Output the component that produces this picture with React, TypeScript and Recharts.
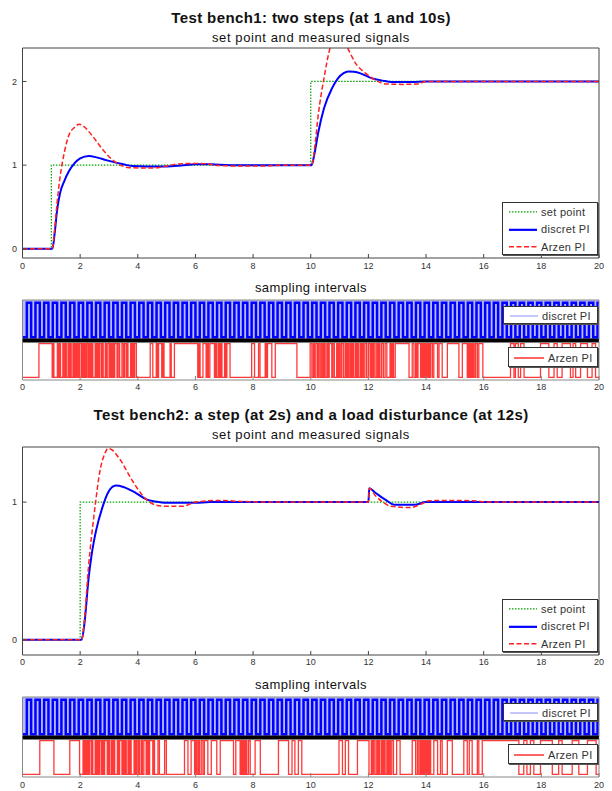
import React from 'react';
import { LineChart, Line, XAxis, YAxis, CartesianGrid } from 'recharts';

// x axis (seconds), shared by every panel
const xTicks = [0, 2, 4, 6, 8, 10, 12, 14, 16, 18, 20];

// Test bench 1: set point and measured signals, [t, y]
const bench1SetPoint: [number, number][] = [[0, 0], [1, 0], [1, 1], [10, 1], [10, 2], [20, 2]];
const bench1Discrete: [number, number][] = [
  [0, 0], [1.04, 0], [1.12, 0.2], [1.2, 0.46], [1.3, 0.66], [1.45, 0.81], [1.6, 0.92], [1.8, 1.02],
  [2.0, 1.08], [2.3, 1.11], [2.6, 1.09], [2.9, 1.06], [3.24, 1.03], [3.5, 1.01], [3.8, 0.99],
  [4.3, 0.985], [5.0, 0.985], [5.5, 0.995], [6.0, 1.01], [6.5, 1.01], [7.2, 1.0], [10.03, 1.0],
  [10.12, 1.12], [10.26, 1.39], [10.46, 1.68], [10.74, 1.92], [10.95, 2.04], [11.14, 2.1],
  [11.3, 2.12], [11.5, 2.115], [11.7, 2.1], [12.1, 2.04], [12.5, 2.01], [12.8, 1.995], [13.5, 1.995],
  [14, 2.0], [20, 2.0],
];
const bench1Arzen: [number, number][] = [
  [0, 0], [1.03, 0], [1.12, 0.25], [1.2, 0.55], [1.3, 0.85], [1.45, 1.15], [1.6, 1.35], [1.8, 1.45],
  [1.97, 1.49], [2.1, 1.47], [2.4, 1.36], [2.75, 1.2], [3.1, 1.07], [3.4, 1.0], [3.7, 0.97],
  [4.3, 0.965], [4.7, 0.97], [5.0, 0.99], [5.4, 1.015], [6.0, 1.02], [6.4, 1.015], [6.8, 0.995],
  [7.5, 0.99], [8.4, 0.99], [9.0, 1.0], [10.03, 1.0], [10.15, 1.25], [10.26, 1.6], [10.46, 2.04],
  [10.67, 2.4], [10.9, 2.55], [11.1, 2.52], [11.28, 2.4], [11.55, 2.22], [11.9, 2.1], [12.23, 2.02],
  [12.6, 1.97], [13.2, 1.965], [13.7, 1.97], [14.0, 2.0], [20, 2.0],
];

// Test bench 2
const bench2SetPoint: [number, number][] = [[0, 0], [2, 0], [2, 1], [20, 1]];
const bench2Discrete: [number, number][] = [
  [0, 0], [2.05, 0], [2.15, 0.12], [2.29, 0.44], [2.4, 0.62], [2.56, 0.8], [2.77, 0.96], [2.97, 1.07],
  [3.24, 1.12], [3.5, 1.11], [3.9, 1.07], [4.3, 1.02], [4.6, 1.005], [5.0, 0.995], [6.0, 0.995],
  [6.5, 1.0], [12.0, 1.0], [12.03, 1.1], [12.23, 1.07], [12.64, 1.01], [12.9, 0.98], [13.6, 0.98],
  [14.0, 1.0], [20, 1.0],
];
const bench2Arzen: [number, number][] = [
  [0, 0], [2.05, 0], [2.15, 0.15], [2.29, 0.53], [2.49, 0.92], [2.7, 1.24], [2.85, 1.35], [2.97, 1.39],
  [3.1, 1.38], [3.38, 1.31], [3.8, 1.16], [4.2, 1.04], [4.6, 0.98], [5.0, 0.97], [5.56, 0.97],
  [6.0, 1.0], [6.8, 1.012], [7.6, 1.005], [8.5, 1.0], [12.0, 1.0], [12.03, 1.1], [12.23, 1.05],
  [12.5, 1.0], [12.78, 0.97], [13.45, 0.96], [13.87, 0.99], [14.1, 1.01], [14.8, 1.012], [15.6, 1.01],
  [16.2, 1.0], [20, 1.0],
];

// sampling instants (the trace toggles 0/1 at each one)
const discreteSamples = [
  0.15, 0.3, 0.45, 0.6, 0.75, 0.9, 1.05, 1.2, 1.35, 1.5, 1.65, 1.8, 1.95,
  2.1, 2.25, 2.4, 2.55, 2.7, 2.85, 3, 3.15, 3.3, 3.45, 3.6, 3.75, 3.9,
  4.05, 4.2, 4.35, 4.5, 4.65, 4.8, 4.95, 5.1, 5.25, 5.4, 5.55, 5.7, 5.85,
  6, 6.15, 6.3, 6.45, 6.6, 6.75, 6.9, 7.05, 7.2, 7.35, 7.5, 7.65, 7.8, 7.95,
  8.1, 8.25, 8.4, 8.55, 8.7, 8.85, 9, 9.15, 9.3, 9.45, 9.6, 9.75, 9.9,
  10.05, 10.2, 10.35, 10.5, 10.65, 10.8, 10.95, 11.1, 11.25, 11.4, 11.55, 11.7, 11.85,
  12, 12.15, 12.3, 12.45, 12.6, 12.75, 12.9, 13.05, 13.2, 13.35, 13.5, 13.65, 13.8, 13.95,
  14.1, 14.25, 14.4, 14.55, 14.7, 14.85, 15, 15.15, 15.3, 15.45, 15.6, 15.75, 15.9,
  16.05, 16.2, 16.35, 16.5, 16.65, 16.8, 16.95, 17.1, 17.25, 17.4, 17.55, 17.7, 17.85,
  18, 18.15, 18.3, 18.45, 18.6, 18.75, 18.9, 19.05, 19.2, 19.35, 19.5, 19.65, 19.8, 19.95,
];

const bench1ArzenSamples = [
  0.57, 1.03, 1.06, 1.09, 1.21, 1.25, 1.29, 1.32, 1.4, 1.44, 1.48, 1.52, 1.58, 1.62, 1.66, 1.69,
  1.75, 1.79, 1.83, 1.87, 1.91, 1.95, 1.98, 2.04, 2.08, 2.12, 2.16, 2.2, 2.24, 2.29, 2.33, 2.37,
  2.41, 2.44, 2.52, 2.56, 2.6, 2.64, 2.67, 2.73, 2.77, 2.8, 2.87, 2.91, 2.96, 3.02, 3.06, 3.1,
  3.14, 3.17, 3.2, 3.28, 3.32, 3.37, 3.45, 3.5, 3.54, 3.6, 3.63, 3.66, 3.75, 3.79, 3.83, 3.86,
  3.89, 3.95, 4.43, 4.52, 4.64, 4.68, 4.72, 4.83, 4.87, 4.91, 5.12, 5.16, 5.27, 6.08, 6.12, 6.16,
  6.26, 6.37, 6.41, 6.45, 6.5, 6.66, 6.7, 6.74, 6.8, 6.84, 6.88, 6.92, 7.01, 7.05, 7.09, 7.2,
  7.95, 8.05, 8.19, 8.24, 8.42, 8.46, 8.5, 8.65, 8.77, 9.52, 9.98, 10.04, 10.09, 10.13, 10.18,
  10.24, 10.28, 10.33, 10.38, 10.42, 10.46, 10.5, 10.56, 10.6, 10.64, 10.73, 10.77, 10.82, 10.9,
  10.94, 10.98, 11.02, 11.07, 11.13, 11.19, 11.23, 11.27, 11.31, 11.36, 11.4, 11.44, 11.48,
  11.54, 11.58, 11.62, 11.65, 11.71, 11.75, 11.79, 11.83, 11.88, 11.94, 12.0, 12.06, 12.1,
  12.14, 12.18, 12.23, 12.29, 12.33, 12.37, 12.4, 12.46, 12.52, 12.58, 12.64, 12.75, 12.79,
  12.83, 12.87, 12.93, 13.41, 13.52, 13.58, 13.64, 13.68, 13.72, 13.81, 13.85, 13.89, 13.93,
  13.97, 14.01, 14.05, 14.09, 14.13, 14.16, 14.22, 14.27, 14.4, 14.45, 14.56, 14.74, 15.14,
  15.26, 15.43, 15.47, 15.51, 15.55, 15.59, 15.63, 15.67, 15.72, 15.78, 15.83, 15.97, 16.93,
  17.05, 17.1, 17.2, 17.28, 17.4, 17.97, 18.26, 18.44, 18.55, 18.72, 19.01, 19.1, 19.19, 19.36,
  19.6, 19.76, 19.88,
];

const bench2ArzenSamples = [
  0.6, 1.09, 1.64, 1.98, 2.1, 2.14, 2.18, 2.22, 2.26, 2.3, 2.33, 2.39, 2.42, 2.44, 2.52, 2.56,
  2.6, 2.64, 2.67, 2.73, 2.77, 2.81, 2.85, 2.94, 2.98, 3.02, 3.08, 3.12, 3.16, 3.2, 3.29, 3.33,
  3.37, 3.45, 3.49, 3.53, 3.57, 3.6, 3.66, 3.7, 3.74, 3.77, 3.87, 3.91, 3.95, 4.0, 4.03, 4.06,
  4.12, 4.16, 4.21, 4.29, 4.33, 4.37, 4.41, 4.52, 4.55, 4.58, 4.7, 4.75, 4.93, 4.99, 5.62, 5.74,
  5.85, 5.97, 6.01, 6.05, 6.1, 6.14, 6.2, 6.26, 6.31, 6.43, 6.55, 6.74, 6.86, 7.32, 7.4, 7.55,
  7.59, 7.63, 7.67, 7.71, 7.75, 7.78, 7.84, 7.9, 8.07, 8.25, 8.88, 9.23, 9.35, 9.45, 9.57, 9.69,
  10.98, 11.1, 11.2, 11.31, 11.62, 12.02, 12.1, 12.14, 12.18, 12.23, 12.29, 12.33, 12.37, 12.4,
  12.46, 12.5, 12.54, 12.58, 12.64, 12.68, 12.72, 12.76, 12.81, 12.87, 12.98, 13.1, 13.52,
  13.64, 13.7, 13.75, 13.8, 13.84, 13.88, 13.92, 13.96, 14.0, 14.04, 14.08, 14.12, 14.16, 14.27,
  14.4, 14.5, 14.56, 14.74, 14.91, 15.31, 15.43, 15.5, 15.6, 15.78, 15.83, 15.95, 17.22, 17.39,
  17.5, 17.62, 17.74, 17.97, 18.38, 18.6, 18.72, 19.07, 19.3, 19.6, 19.9,
];

const toPoints = (pairs: [number, number][]) => pairs.map(([t, y]) => ({ t, y }));

// 0/1 toggle trace for a list of sampling instants
const toSteps = (instants: number[]) => {
  const pts = [{ t: 0, y: 0 }];
  instants.forEach((t, i) => pts.push({ t, y: (i + 1) % 2 }));
  pts.push({ t: 20, y: instants.length % 2 });
  return pts;
};

const FONT = '"Liberation Sans", Arial, sans-serif';
const FRAME = '#444';
const tickStyle = { fontSize: 9, fill: '#333' };
const blank = () => '';

// four sided matlab style box, ticks pointing in
function frameAxes(opts: {
  yDomain: number[];
  yTicks: number[];
  xLabels: boolean;
  xLabelMargin?: number;
  bottomAxisH: number;
  frame?: string;
  bottomLine?: any;
  topLine?: any;
  xTickLines?: boolean;
}) {
  const frame = opts.frame || FRAME;
  return [
    <XAxis
      key="xb"
      xAxisId="b"
      type="number"
      dataKey="t"
      domain={[0, 20]}
      ticks={xTicks}
      orientation="bottom"
      height={opts.bottomAxisH}
      tickSize={-4}
      tickMargin={opts.xLabelMargin ?? 9}
      axisLine={opts.bottomLine || { stroke: frame }}
      tickLine={opts.xTickLines === false ? false : { stroke: frame }}
      tick={opts.xLabels ? tickStyle : false}
      tickFormatter={opts.xLabels ? undefined : blank}
      allowDataOverflow
    />,
    <XAxis
      key="xt"
      xAxisId="t"
      type="number"
      domain={[0, 20]}
      ticks={xTicks}
      orientation="top"
      height={2}
      tickSize={-4}
      axisLine={opts.topLine || { stroke: frame }}
      tickLine={opts.xTickLines === false ? false : { stroke: frame }}
      tickFormatter={blank}
      tick={false}
    />,
    <YAxis
      key="yl"
      yAxisId="l"
      type="number"
      domain={opts.yDomain}
      ticks={opts.yTicks}
      width={22.5}
      tickSize={-4}
      tickMargin={9.5}
      axisLine={{ stroke: frame }}
      tickLine={{ stroke: frame }}
      tick={tickStyle}
      allowDataOverflow
    />,
    <YAxis
      key="yr"
      yAxisId="r"
      orientation="right"
      type="number"
      domain={opts.yDomain}
      ticks={opts.yTicks}
      width={1}
      tickSize={-4}
      axisLine={{ stroke: frame }}
      tickLine={{ stroke: frame }}
      tickFormatter={blank}
      tick={false}
      allowDataOverflow
    />,
  ];
}

function Title({ y, size, bold, spacing = 0, children }: any) {
  return (
    <div
      style={{
        position: 'absolute',
        left: 0,
        width: 622,
        top: y - size / 2 - 1,
        textAlign: 'center',
        fontSize: size,
        lineHeight: `${size + 2}px`,
        fontWeight: bold ? 'bold' : 'normal',
        letterSpacing: spacing,
        color: '#111',
      }}
    >
      {children}
    </div>
  );
}

interface LegendItem {
  label: string;
  color: string;
  dash?: string;
  width: number;
}

function LegendBox({ x, y, w, h, items, lineX = 6, lineW = 28 }: any) {
  const rowH = h / items.length;
  return (
    <div
      style={{
        position: 'absolute',
        left: x,
        top: y,
        width: w,
        height: h,
        background: '#fff',
        border: '1px solid #333',
        boxShadow: '1px 1px 0 #555',
        boxSizing: 'border-box',
      }}
    >
      {items.map((it: LegendItem, i: number) => (
        <div key={i} style={{ position: 'absolute', left: 0, top: i * rowH, height: rowH, width: w, display: 'flex', alignItems: 'center' }}>
          <svg width={lineX + lineW + 4} height={rowH} style={{ display: 'block' }}>
            <line x1={lineX} x2={lineX + lineW} y1={rowH / 2} y2={rowH / 2} stroke={it.color} strokeWidth={it.width} strokeDasharray={it.dash} />
          </svg>
          <span style={{ fontSize: 11, color: '#333', letterSpacing: 0.3 }}>{it.label}</span>
        </div>
      ))}
    </div>
  );
}

const signalLegend: LegendItem[] = [
  { label: 'set point', color: '#00a000', dash: '1.5 1.5', width: 1.2 },
  { label: 'discret PI', color: '#0000ff', width: 2.2 },
  { label: 'Arzen PI', color: '#ff2020', dash: '5 2.5', width: 1.5 },
];

function SignalPanel({ top, plotH, yDomain, yTicks, setPoint, discrete, arzen, labelMargin }: any) {
  const axisH = 20;
  return (
    <div style={{ position: 'absolute', left: 0, top: top - 2 }}>
      <LineChart width={612} height={2 + plotH + axisH} margin={{ top: 0, right: 12, bottom: 0, left: 0 }}>
        {frameAxes({ yDomain, yTicks, xLabels: true, xLabelMargin: labelMargin, bottomAxisH: axisH })}
        <Line xAxisId="b" yAxisId="l" data={toPoints(setPoint)} dataKey="y" type="linear" stroke="#00a000" strokeWidth={1.2} strokeDasharray="1.5 1.5" dot={false} isAnimationActive={false} />
        <Line xAxisId="b" yAxisId="l" data={toPoints(discrete)} dataKey="y" type="monotone" stroke="#0000ff" strokeWidth={2} dot={false} isAnimationActive={false} />
        <Line xAxisId="b" yAxisId="l" data={toPoints(arzen)} dataKey="y" type="monotone" stroke="#ff2020" strokeWidth={1.5} strokeDasharray="5 2.5" dot={false} isAnimationActive={false} />
      </LineChart>
    </div>
  );
}

function SamplingPanel({ top, arzenSamples, labelMargin }: any) {
  // upper strip: discrete PI, lower strip: Arzen PI
  const dom = [-0.08, 1.08];
  const thick = { stroke: '#000', strokeWidth: 3 };
  return (
    <>
      <div style={{ position: 'absolute', left: 0, top: top - 2 }}>
        <LineChart width={612} height={2 + 40 + 2} margin={{ top: 0, right: 12, bottom: 0, left: 0 }}>
          <CartesianGrid xAxisId="b" yAxisId="l" horizontal={false} vertical={false} fill="#b6bbff" />
          {frameAxes({ yDomain: dom, yTicks: [], xLabels: false, bottomAxisH: 2, frame: '#888', bottomLine: thick, xTickLines: false })}
          <Line xAxisId="b" yAxisId="l" data={toSteps(discreteSamples)} dataKey="y" type="stepAfter" stroke="#0000ff" strokeWidth={2.5} dot={false} isAnimationActive={false} />
        </LineChart>
      </div>
      <div style={{ position: 'absolute', left: 0, top: top + 41 - 2 }}>
        <LineChart width={612} height={2 + 39 + 16} margin={{ top: 0, right: 12, bottom: 0, left: 0 }}>
          {frameAxes({ yDomain: dom, yTicks: [], xLabels: true, xLabelMargin: labelMargin, bottomAxisH: 16, frame: '#888', topLine: thick })}
          <Line xAxisId="b" yAxisId="l" data={toSteps(arzenSamples)} dataKey="y" type="stepAfter" stroke="#ff0000" strokeOpacity={0.78} strokeWidth={1.3} dot={false} isAnimationActive={false} />
        </LineChart>
      </div>
      <LegendBox x={503} y={top + 6} w={95} h={18} items={[{ label: 'discret PI', color: '#8c8cff', width: 1 }]} />
      <LegendBox x={508} y={top + 47} w={90} h={20} items={[{ label: 'Arzen PI', color: '#ff3030', width: 1.5 }]} lineX={5} lineW={30} />
    </>
  );
}

export default function App() {
  return (
    <div style={{ position: 'absolute', left: 0, top: 0, width: 612, height: 791, background: '#fff', fontFamily: FONT }}>
      <Title y={17} size={15} bold spacing={0.4}>Test bench1: two steps (at 1 and 10s)</Title>
      <Title y={37} size={13} spacing={0.6}>set point and measured signals</Title>
      <SignalPanel top={48} plotH={210} yDomain={[-0.11, 2.4]} yTicks={[0, 1, 2]} setPoint={bench1SetPoint} discrete={bench1Discrete} arzen={bench1Arzen} labelMargin={9} />
      <LegendBox x={502} y={202} w={96} h={53} items={signalLegend} />

      <Title y={287} size={13} spacing={0.45}>sampling intervals</Title>
      <SamplingPanel top={300} arzenSamples={bench1ArzenSamples} labelMargin={8} />

      <Title y={414} size={15} bold spacing={0.4}>Test bench2: a step (at 2s) and a load disturbance (at 12s)</Title>
      <Title y={434} size={13} spacing={0.6}>set point and measured signals</Title>
      <SignalPanel top={447} plotH={208} yDomain={[-0.11, 1.4]} yTicks={[0, 1]} setPoint={bench2SetPoint} discrete={bench2Discrete} arzen={bench2Arzen} labelMargin={8} />
      <LegendBox x={502} y={599} w={96} h={53} items={signalLegend} />

      <Title y={684} size={13} spacing={0.45}>sampling intervals</Title>
      <SamplingPanel top={697} arzenSamples={bench2ArzenSamples} labelMargin={9} />
    </div>
  );
}
